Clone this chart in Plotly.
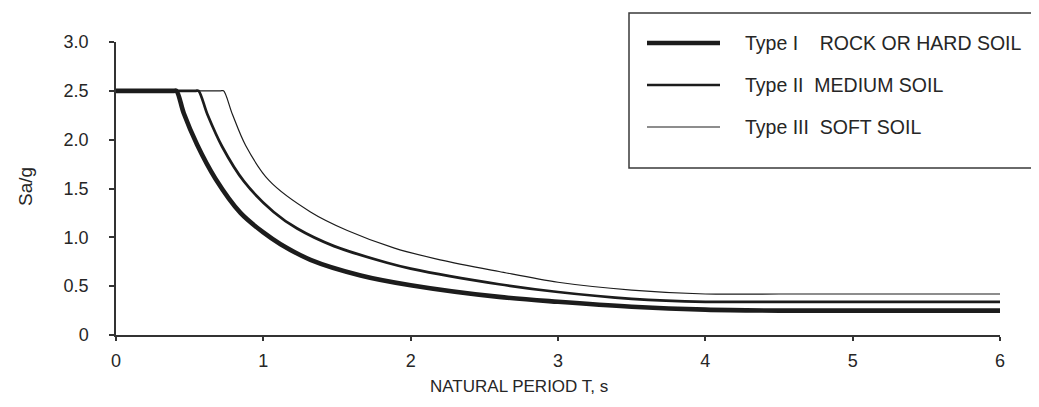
import plotly.graph_objects as go

# ---- data ----
t_type1 = [0, 0.30, 0.39, 0.41, 0.46, 0.55, 0.675, 0.845, 1.00, 1.117, 1.32, 1.66, 2.00, 2.60, 3.00, 3.50, 4.00, 4.50, 5.00, 5.50, 6.00]
sa_type1 = [2.5, 2.5, 2.5, 2.5, 2.27, 1.95, 1.60, 1.25, 1.05, 0.93, 0.77, 0.61, 0.51, 0.39, 0.34, 0.29, 0.26, 0.25, 0.25, 0.25, 0.25]

t_type2 = [0, 0.45, 0.54, 0.56, 0.62, 0.72, 0.87, 1.07, 1.23, 1.48, 1.84, 2.00, 2.60, 3.00, 3.50, 4.00, 4.50, 5.00, 5.50, 6.00]
sa_type2 = [2.5, 2.5, 2.5, 2.5, 2.26, 1.93, 1.57, 1.26, 1.09, 0.91, 0.74, 0.68, 0.52, 0.44, 0.37, 0.34, 0.34, 0.34, 0.34, 0.34]

t_type3 = [0, 0.62, 0.71, 0.73, 0.79, 0.88, 1.04, 1.32, 1.57, 1.89, 2.20, 2.60, 3.00, 3.50, 4.00, 4.50, 5.00, 5.50, 6.00]
sa_type3 = [2.5, 2.5, 2.5, 2.5, 2.26, 1.94, 1.58, 1.26, 1.07, 0.89, 0.77, 0.65, 0.54, 0.46, 0.42, 0.42, 0.42, 0.42, 0.42]

NB = "\u00a0"
series_names = ["Type I" + NB * 4 + "ROCK OR HARD SOIL",
                "Type II" + NB * 2 + "MEDIUM SOIL",
                "Type III" + NB * 2 + "SOFT SOIL"]
line_widths = [4.6, 2.7, 1.2]

x_ticks = [0, 1, 2, 3, 4, 5, 6]
y_ticks = [0, 0.5, 1.0, 1.5, 2.0, 2.5, 3.0]
y_tick_labels = ["0", "0.5", "1.0", "1.5", "2.0", "2.5", "3.0"]

FONT = "Liberation Sans, Arial, sans-serif"
INK = "#1c1c1c"
TXT = "#262626"

fig = go.Figure()
for t, sa, name, w in zip([t_type1, t_type2, t_type3],
                          [sa_type1, sa_type2, sa_type3],
                          series_names, line_widths):
    fig.add_trace(go.Scatter(x=t, y=sa, mode="lines", name=name,
                             line=dict(color=INK, width=w, shape="spline", smoothing=0.9),
                             showlegend=False))

# page has an 8px body margin; plot box on the page: x 116..1000, y 42..335
OFF = 8
W, H = 1039 - OFF, 407 - OFF
PX0, PX1, PY0, PY1 = 116, 1000, 42, 335
L, T = PX0 - OFF, PY0 - OFF
R, B = W - (PX1 - OFF), H - (PY1 - OFF)
pw, ph = PX1 - PX0, PY1 - PY0


def px(xp):
    return (xp - PX0) / pw


def py(yp):
    return (PY1 - yp) / ph


shapes = [dict(type="rect", xref="paper", yref="paper",
               x0=px(629), x1=px(1050), y0=py(168), y1=py(13),
               line=dict(color="#3a3a3a", width=1.5), fillcolor="rgba(0,0,0,0)")]
annotations = []
rows = [43, 85, 127]
for yrow, name, w in zip(rows, series_names, line_widths):
    shapes.append(dict(type="line", xref="paper", yref="paper",
                       x0=px(647), x1=px(720), y0=py(yrow), y1=py(yrow),
                       line=dict(color=INK, width=w)))
    annotations.append(dict(xref="paper", yref="paper", x=px(743), y=py(yrow),
                            xanchor="left", yanchor="middle", showarrow=False,
                            text=name, font=dict(family=FONT, size=19.5, color=TXT)))

annotations.append(dict(xref="paper", yref="paper", x=px(519), y=py(386),
                        xanchor="center", yanchor="middle", showarrow=False,
                        text="NATURAL PERIOD T, s",
                        font=dict(family=FONT, size=17, color=TXT)))
annotations.append(dict(xref="paper", yref="paper", x=px(25), y=py(187),
                        xanchor="center", yanchor="middle", showarrow=False,
                        textangle=-90, text="Sa/g",
                        font=dict(family=FONT, size=19, color=TXT)))

fig.update_layout(
    width=W, height=H,
    margin=dict(l=L, r=R, t=T, b=B, autoexpand=False),
    paper_bgcolor="white", plot_bgcolor="white",
    font=dict(family=FONT, size=18, color=TXT),
    shapes=shapes, annotations=annotations,
    xaxis=dict(range=[0, 6], tickvals=x_ticks, showgrid=False, zeroline=False,
               showline=True, linecolor="#333333", linewidth=1.5,
               ticks="outside", ticklen=4, tickcolor="#333333", tickwidth=1.5,
               tickfont=dict(size=18), ticklabelstandoff=5, automargin=False),
    yaxis=dict(range=[0, 3], tickvals=y_ticks, ticktext=y_tick_labels,
               showgrid=False, zeroline=False,
               showline=True, linecolor="#333333", linewidth=1.5,
               ticks="outside", ticklen=5, tickcolor="#333333", tickwidth=1.5,
               tickfont=dict(size=18), ticklabelstandoff=17, automargin=False),
)

fig.write_html("out.html")
